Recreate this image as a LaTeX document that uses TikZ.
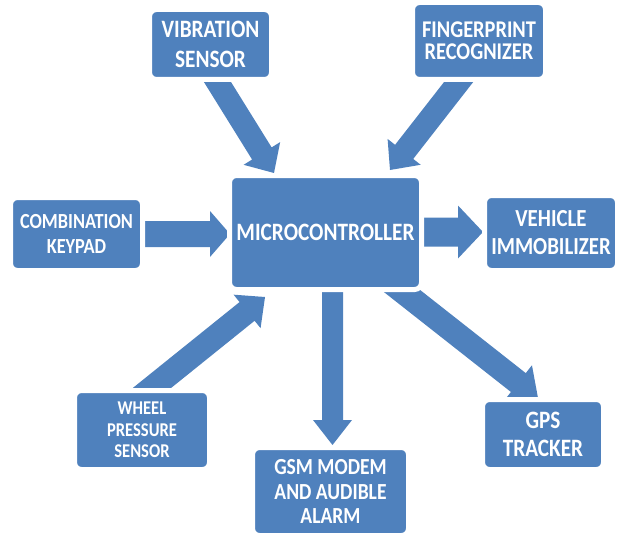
\documentclass[tikz,border=0pt]{standalone}
\usepackage{fontspec}
\newfontfamily\cf[FakeStretch=0.85]{Carlito}
\usetikzlibrary{calc}
\definecolor{boxblue}{HTML}{4F81BD}
\tikzset{
  box/.style={rounded corners=7pt, fill=boxblue, draw=white, line width=5pt,
    inner sep=0pt, text=white, align=center},
  fs/.style 2 args={font=\cf\bfseries\fontsize{#1}{#2}\selectfont},
  arrowfill/.style={fill=boxblue},
}
\newcommand\blockarr[5]{%
  \coordinate (ba-h) at ($(#2)!#5!(#1)$);
  \fill[arrowfill] ($(#1)!#3!90:(#2)$) -- ($(ba-h)!#3!90:(#2)$) -- ($(ba-h)!#4!90:(#2)$)
    -- (#2) -- ($(ba-h)!#4!-90:(#2)$) -- ($(ba-h)!#3!-90:(#2)$) -- ($(#1)!#3!-90:(#2)$) -- cycle;}
\begin{document}
\begin{tikzpicture}[x=1pt,y=-1pt]
\useasboundingbox (0,0) rectangle (624,535);
% arrow end points
\coordinate (vibT) at (210,70);   \coordinate (vibE) at (274,173);
\coordinate (finT) at (468,70);   \coordinate (finE) at (390,170);
\coordinate (keyT) at (130,234);  \coordinate (keyE) at (230,234);
\coordinate (vehT) at (410,232);  \coordinate (vehE) at (483,232);
\coordinate (gsmT) at (332.5,280);\coordinate (gsmE) at (332.5,445);
\coordinate (whlT) at (137,400);  \coordinate (whlE) at (265,297);
\coordinate (gpsT) at (388,280);  \coordinate (gpsE) at (538,398);
\blockarr{vibT}{vibE}{11.5pt}{21.5pt}{23pt}
\blockarr{finT}{finE}{11.5pt}{21pt}{23pt}
\blockarr{keyT}{keyE}{13pt}{23pt}{20pt}
\blockarr{vehT}{vehE}{14.5pt}{26.5pt}{25pt}
\blockarr{gsmT}{gsmE}{10.5pt}{19.5pt}{25pt}
\blockarr{whlT}{whlE}{12pt}{21.5pt}{23pt}
\blockarr{gpsT}{gpsE}{12pt}{22pt}{25pt}
% boxes
\node[box, fs={25}{30}, minimum width=122pt, minimum height=70pt] (vib) at (210.5,44.5) {VIBRATION\\SENSOR};
\node[box, fs={24}{22}, minimum width=133pt, minimum height=77pt] (fin) at (479,41) {FINGERPRINT\\RECOGNIZER};
\node[box, fs={25}{30}, minimum width=192pt, minimum height=114pt] (mcu) at (325.5,232.5) {MICROCONTROLLER};
\node[box, fs={21.5}{25}, minimum width=132pt, minimum height=73pt] (key) at (76.5,234) {COMBINATION\\KEYPAD};
\node[box, fs={24.5}{28}, minimum width=133pt, minimum height=75pt] (veh) at (551,233) {VEHICLE\\IMMOBILIZER};
\node[box, fs={19.5}{21.5}, minimum width=135pt, minimum height=79pt] (whl) at (142,430) {WHEEL\\PRESSURE\\SENSOR};
\node[box, fs={23}{24.5}, minimum width=156pt, minimum height=88pt] (gsm) at (330.5,491.5) {GSM MODEM\\AND AUDIBLE\\ALARM};
\node[box, fs={25}{28}, minimum width=121pt, minimum height=70pt] (gps) at (543,434.5) {GPS\\TRACKER};
\end{tikzpicture}
\end{document}
